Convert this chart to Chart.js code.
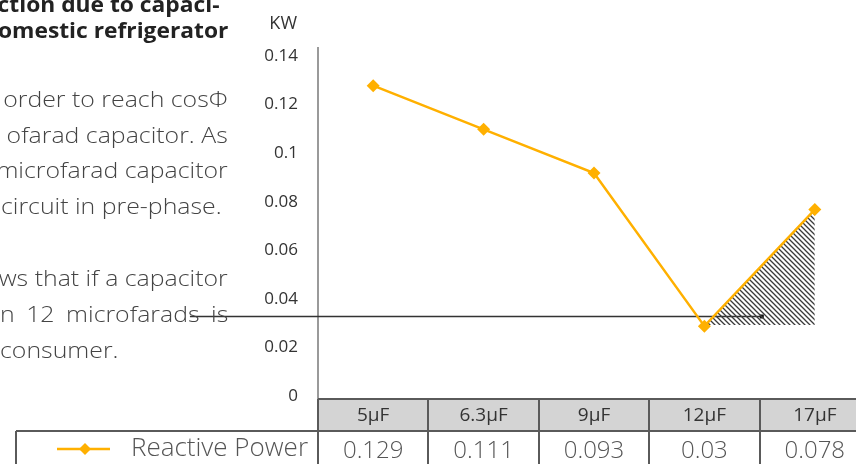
<!DOCTYPE html>
<html>
<head>
<meta charset="utf-8">
<title>Reactive power vs capacitor</title>
<script src="https://cdn.jsdelivr.net/npm/chart.js@4.4.1/dist/chart.umd.min.js"></script>
<style>
  html, body { margin: 0; padding: 0; background: #fff; overflow: hidden; }
  #wrap { position: relative; width: 856px; height: 464px; overflow: hidden; }
  #chart { position: absolute; left: 0; top: 0; }
  .t { position: absolute; white-space: nowrap; font-family: "Open Sans", sans-serif; line-height: 1; }
  .title { font-weight: 700; font-size: 21px; color: #222; transform: scaleX(1.085); transform-origin: right center; }
  .para { font-weight: 300; font-size: 22px; color: #444; transform: scaleX(1.13); }
  .r { text-align: right; transform-origin: right center; }
  .l { transform-origin: left center; }
  .just { left: 0; width: 202px; text-align: justify; text-align-last: justify; transform-origin: left center; }
</style>
</head>
<body>
<div id="wrap">
  <canvas id="chart" width="900" height="464"></canvas>

  <!-- clipped page text to the left of the chart -->
  <div class="t title r" style="right:636px; top:-5.6px;">ction due to capaci-</div>
  <div class="t title r" style="right:628px; top:20.4px;">omestic refrigerator</div>
  <div class="t para r" style="right:628px; top:86.5px;">order to reach cosΦ</div>
  <div class="t para r" style="right:628px; top:122.5px;">ofarad capacitor. As</div>
  <div class="t para r" style="right:628px; top:157.5px;">microfarad capacitor</div>
  <div class="t para l" style="left:1px; top:193.5px;">circuit in pre-phase.</div>
  <div class="t para r" style="right:628px; top:265.5px;">ws that if a capacitor</div>
  <div class="t para just" style="top:301.5px;">n 12 microfarads is</div>
  <div class="t para l" style="left:0; top:337.5px;">consumer.</div>
</div>

<script>
// chart data
const categories = ['5μF', '6.3μF', '9μF', '12μF', '17μF'];
const reactivePower = [0.129, 0.111, 0.093, 0.03, 0.078];
const tableValues = ['0.129', '0.111', '0.093', '0.03', '0.078'];
const yTicks = [0, 0.02, 0.04, 0.06, 0.08, 0.1, 0.12, 0.14];
const yMax = 0.1445;

// hatched triangle between 12μF and 17μF, and the black reference line
const hatchedArea = [null, null, null, 0.03, 0.078];
const hatchBase = 0.0305;
const refLevel = 0.0342;
const refFrom = -1.66;   // category index units
const refTo = 3.52;

const ORANGE = '#ffb000';
const FONT = '"Open Sans", sans-serif';

const canvas = document.getElementById('chart');
const mainCtx = canvas.getContext('2d');

function hatchPattern() {
    const s = 5;
    const tile = document.createElement('canvas');
    tile.width = s;
    tile.height = s;
    const g = tile.getContext('2d');
    g.strokeStyle = '#3a3a3a';
    g.lineWidth = 1.3;
    g.beginPath();
    g.moveTo(0, 0); g.lineTo(s, s);
    g.moveTo(-1, s - 1); g.lineTo(1, s + 1);
    g.moveTo(s - 1, -1); g.lineTo(s + 1, 1);
    g.stroke();
    return mainCtx.createPattern(tile, 'repeat');
}

// black horizontal line with the small end dot, under the datasets
const refLine = {
    id: 'refLine',
    beforeDatasetsDraw(chart) {
        const { ctx, scales: { x, y } } = chart;
        const py = Math.round(y.getPixelForValue(refLevel)) + 0.5;
        const x0 = x.getPixelForValue(refFrom);
        const x1 = x.getPixelForValue(refTo);
        ctx.save();
        ctx.strokeStyle = '#333';
        ctx.lineWidth = 1.5;
        ctx.beginPath();
        ctx.moveTo(x0, py);
        ctx.lineTo(x1, py);
        ctx.stroke();
        ctx.fillStyle = '#111';
        ctx.fillRect(x1 - 2, py - 2, 4, 4);
        ctx.restore();
    },
};

// unit label and the data table under the plot
const dataTable = {
    id: 'dataTable',
    afterDraw(chart) {
        const { ctx, chartArea: a, scales: { x } } = chart;
        const rowH = 32;
        const top = a.bottom;
        const mid = top + rowH;
        const bottom = chart.height + 2;
        const legendLeft = 16;

        ctx.save();
        // KW
        ctx.fillStyle = '#333';
        ctx.font = `18px ${FONT}`;
        ctx.textAlign = 'right';
        ctx.textBaseline = 'middle';
        ctx.fillText('KW', 297, 24);

        // header fill
        ctx.fillStyle = '#d4d4d4';
        ctx.fillRect(a.left, top, a.right - a.left, rowH);

        ctx.strokeStyle = '#5a5a5a';
        ctx.lineWidth = 2;
        ctx.beginPath();
        ctx.moveTo(a.left, top); ctx.lineTo(a.right + 40, top);
        ctx.moveTo(legendLeft, mid); ctx.lineTo(a.right + 40, mid);
        for (let i = 0; i <= categories.length; i++) {
            const px = Math.round(x.getPixelForValue(i - 0.5));
            ctx.moveTo(px, top); ctx.lineTo(px, bottom);
        }
        ctx.moveTo(legendLeft, mid); ctx.lineTo(legendLeft, bottom);
        ctx.stroke();

        // header labels
        ctx.textAlign = 'center';
        ctx.fillStyle = '#333';
        ctx.font = `19px ${FONT}`;
        categories.forEach((c, i) => {
            ctx.fillText(c, x.getPixelForValue(i), top + rowH / 2 + 1);
        });

        // values row
        ctx.fillStyle = '#555';
        ctx.font = `300 24px ${FONT}`;
        tableValues.forEach((v, i) => {
            ctx.fillText(v, x.getPixelForValue(i), mid + 20);
        });

        // legend key
        ctx.strokeStyle = ORANGE;
        ctx.lineWidth = 2.5;
        ctx.beginPath();
        ctx.moveTo(57, mid + 18); ctx.lineTo(110, mid + 18);
        ctx.stroke();
        ctx.fillStyle = ORANGE;
        ctx.beginPath();
        ctx.moveTo(85, mid + 12); ctx.lineTo(91, mid + 18);
        ctx.lineTo(85, mid + 24); ctx.lineTo(79, mid + 18);
        ctx.closePath();
        ctx.fill();
        ctx.fillStyle = '#555';
        ctx.textAlign = 'right';
        ctx.font = `300 26px ${FONT}`;
        ctx.fillText('Reactive Power', 308, mid + 18);
        ctx.restore();
    },
};

new Chart(canvas, {
    type: 'line',
    data: {
        labels: categories,
        datasets: [
            {
                label: 'Reactive Power',
                data: reactivePower,
                borderColor: ORANGE,
                backgroundColor: ORANGE,
                borderWidth: 2.5,
                pointStyle: 'rectRot',
                pointRadius: 6.5,
                pointHoverRadius: 6.5,
                pointBorderWidth: 0,
                tension: 0,
                fill: false,
                order: 0,
            },
            {
                label: 'hatch',
                data: hatchedArea,
                borderWidth: 0,
                borderColor: 'rgba(0,0,0,0)',
                pointRadius: 0,
                backgroundColor: hatchPattern(),
                fill: { value: hatchBase },
                order: 1,
            },
        ],
    },
    options: {
        responsive: false,
        animation: false,
        devicePixelRatio: 1,
        layout: { padding: { top: 48, right: 30, bottom: 65, left: 0 } },
        plugins: {
            legend: { display: false },
            tooltip: { enabled: false },
        },
        scales: {
            x: {
                type: 'category',
                display: false,
                offset: true,
                grid: { display: false },
            },
            y: {
                min: 0,
                max: yMax,
                afterBuildTicks: (s) => { s.ticks = yTicks.map(v => ({ value: v })); },
                afterFit: (s) => { s.width = 318; },
                grid: { display: false, drawTicks: false },
                border: { display: true, color: '#9a9a9a', width: 2 },
                ticks: {
                    padding: 20,
                    labelOffset: -3,
                    color: '#333',
                    font: { family: FONT, size: 17 },
                    callback: (v) => String(v),
                },
            },
        },
    },
    plugins: [refLine, dataTable],
});
</script>
</body>
</html>
